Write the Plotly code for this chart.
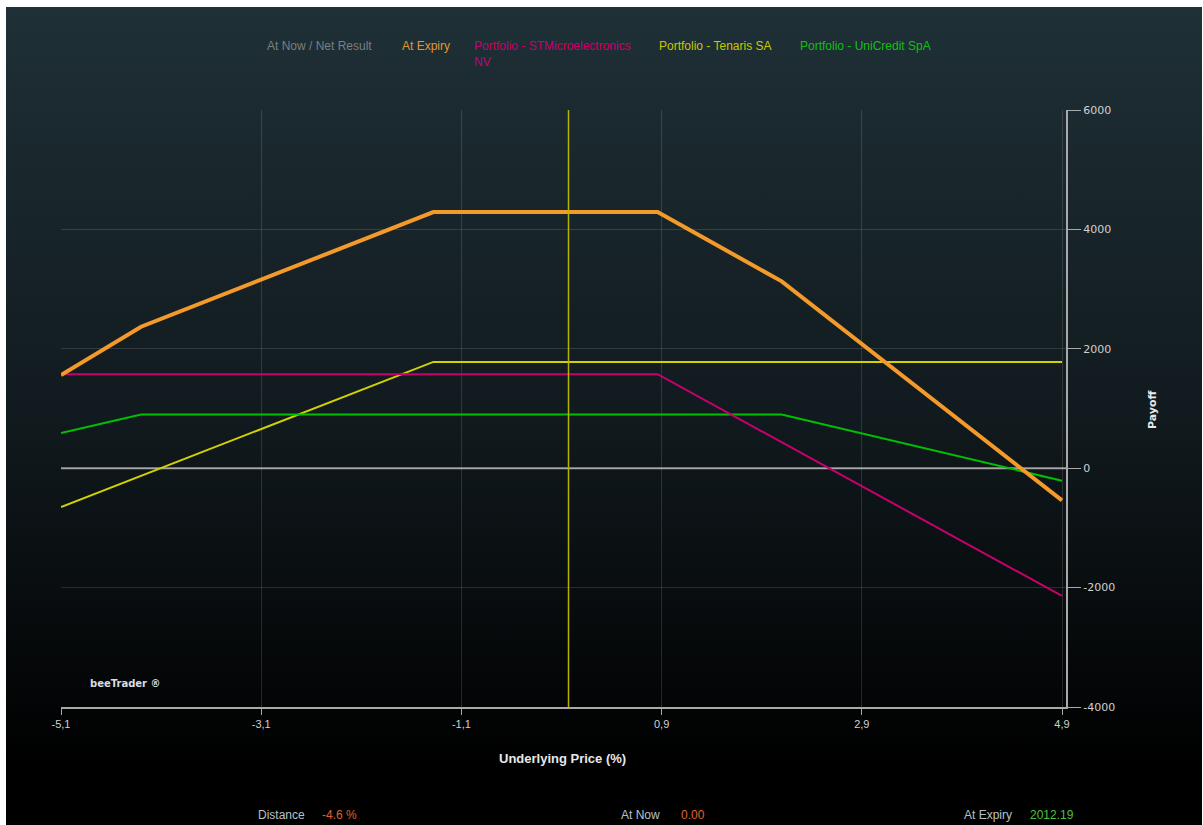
import base64
import plotly.graph_objects as go

# ---- data ----
x_expiry = [-5.1, -4.3, -1.38, 0.86, 2.1, 4.9]
y_expiry = [1560, 2370, 4290, 4290, 3130, -540]

x_stm = [-5.1, 0.86, 4.9]
y_stm = [1575, 1575, -2140]

x_ten = [-5.1, -1.38, 4.9]
y_ten = [-650, 1780, 1780]

x_uni = [-5.1, -4.3, 2.1, 4.9]
y_uni = [590, 900, 900, -210]

current_x = -0.03

x_ticks = [-5.1, -3.1, -1.1, 0.9, 2.9, 4.9]
x_ticktext = ["-5,1", "-3,1", "-1,1", "0,9", "2,9", "4,9"]
y_ticks = [-4000, -2000, 0, 2000, 4000, 6000]
y_ticktext = ["-4000", "-2000", "0", "2000", "4000", "6000"]

legend_items = [
    ("At Now / Net Result", "#7a7f82", 265),
    ("At Expiry", "#e8952c", 400),
    ("Portfolio - STMicroelectronics<br>NV", "#c8006e", 472),
    ("Portfolio - Tenaris SA", "#c8c800", 657),
    ("Portfolio - UniCredit SpA", "#10c010", 798),
]

W, H = 1203, 825
L, R, T, B = 61, 1066, 110, 707

def px(xp):
    return (xp - L) / (R - L)

def py(yp):
    return (B - yp) / (B - T)

fig = go.Figure()

fig.add_trace(go.Scatter(x=x_ten, y=y_ten, mode="lines",
                         line=dict(color="#d2d200", width=2), name="Portfolio - Tenaris SA"))
fig.add_trace(go.Scatter(x=x_uni, y=y_uni, mode="lines",
                         line=dict(color="#00c000", width=2), name="Portfolio - UniCredit SpA"))
fig.add_trace(go.Scatter(x=x_stm, y=y_stm, mode="lines",
                         line=dict(color="#c8006e", width=2), name="Portfolio - STMicroelectronics NV"))
fig.add_trace(go.Scatter(x=x_expiry, y=y_expiry, mode="lines",
                         line=dict(color="#f39a2a", width=4), name="At Expiry"))

# background gradient as an SVG image
gx0, gx1, gy0, gy1 = 6, 1202, 7, 825
svg = ('<svg xmlns="http://www.w3.org/2000/svg" width="%d" height="%d" preserveAspectRatio="none">'
       '<defs><linearGradient id="g" x1="0" y1="0" x2="0" y2="1">'
       '<stop offset="0" stop-color="#1f3037"/>'
       '<stop offset="0.5" stop-color="#111a1e"/>'
       '<stop offset="0.93" stop-color="#000000"/>'
       '<stop offset="1" stop-color="#000000"/>'
       '</linearGradient></defs>'
       '<rect width="100%%" height="100%%" fill="url(#g)"/></svg>') % (gx1 - gx0, gy1 - gy0)
src = "data:image/svg+xml;base64," + base64.b64encode(svg.encode()).decode()
fig.add_layout_image(dict(source=src, xref="paper", yref="paper",
                          x=px(gx0), y=py(gy0), sizex=px(gx1) - px(gx0), sizey=py(gy0) - py(gy1),
                          xanchor="left", yanchor="top", sizing="stretch", layer="below"))

shapes = []
# zero line
shapes.append(dict(type="line", xref="paper", yref="y", x0=0, x1=1, y0=0, y1=0,
                   line=dict(color="#9a9a9a", width=2), layer="below"))
# current price line
shapes.append(dict(type="line", xref="x", yref="paper", x0=current_x, x1=current_x, y0=0, y1=1,
                   line=dict(color="#b4b400", width=1.5)))
fig.update_layout(shapes=shapes)

annotations = []
for text, color, xp in legend_items:
    annotations.append(dict(text=text, x=px(xp), y=py(37), xref="paper", yref="paper",
                            xanchor="left", yanchor="top", showarrow=False, align="left",
                            font=dict(family="Liberation Sans Narrow, Arial Narrow, sans-serif",
                                      size=12, color=color)))
annotations.append(dict(text="<b>Underlying Price (%)</b>", x=px(562), y=py(758), xref="paper",
                        yref="paper", showarrow=False, xanchor="center", yanchor="middle",
                        font=dict(family="Liberation Sans Narrow, sans-serif", size=13, color="#e8e8e8")))
annotations.append(dict(text="<b>Payoff</b>", x=px(1152), y=py(410), xref="paper", yref="paper",
                        showarrow=False, textangle=-90, xanchor="center", yanchor="middle",
                        font=dict(family="DejaVu Sans, sans-serif", size=11, color="#e8e8e8")))
annotations.append(dict(text="<b>beeTrader ®</b>", x=px(88), y=py(683), xref="paper", yref="paper",
                        xanchor="left", yanchor="middle", showarrow=False,
                        font=dict(family="DejaVu Sans, sans-serif", size=10, color="#d8dde0")))
bottom = [("Distance", "#b9c0c6", 256), ("-4.6 %", "#e0602a", 320),
          ("At Now", "#b9c0c6", 619), ("0.00", "#e0602a", 679),
          ("At Expiry", "#b9c0c6", 962), ("2012.19", "#4cc040", 1028)]
for text, color, xp in bottom:
    annotations.append(dict(text=text, x=px(xp), y=py(815), xref="paper", yref="paper",
                            xanchor="left", yanchor="middle", showarrow=False,
                            font=dict(family="Liberation Sans Narrow, sans-serif", size=12, color=color)))
fig.update_layout(annotations=annotations)

fig.update_layout(
    width=W, height=H,
    margin=dict(l=L, r=W - R, t=T, b=H - B, pad=0),
    paper_bgcolor="#ffffff",
    plot_bgcolor="rgba(0,0,0,0)",
    showlegend=False,
    xaxis=dict(range=[-5.1, 4.94], tickvals=x_ticks, ticktext=x_ticktext,
               showgrid=True, gridcolor="rgba(255,255,255,0.13)", gridwidth=1,
               zeroline=False, showline=True, linecolor="#a9a9a9", linewidth=2,
               ticks="outside", ticklen=6, tickcolor="#a9a9a9",
               tickfont=dict(family="Liberation Sans Narrow, sans-serif", size=11, color="#d0d0d0")),
    yaxis=dict(range=[-4000, 6000], tickvals=y_ticks, ticktext=y_ticktext, side="right",
               showgrid=True, gridcolor="rgba(255,255,255,0.13)", gridwidth=1,
               zeroline=False, showline=True, linecolor="#a9a9a9", linewidth=2,
               ticks="outside", ticklen=13, tickcolor="#a9a9a9",
               tickfont=dict(family="DejaVu Sans, sans-serif", size=11, color="#d0d0d0")),
)

fig.write_html("out.html", config={"displayModeBar": False},
               post_script="document.body.style.margin='0';document.body.style.overflow='hidden';")
